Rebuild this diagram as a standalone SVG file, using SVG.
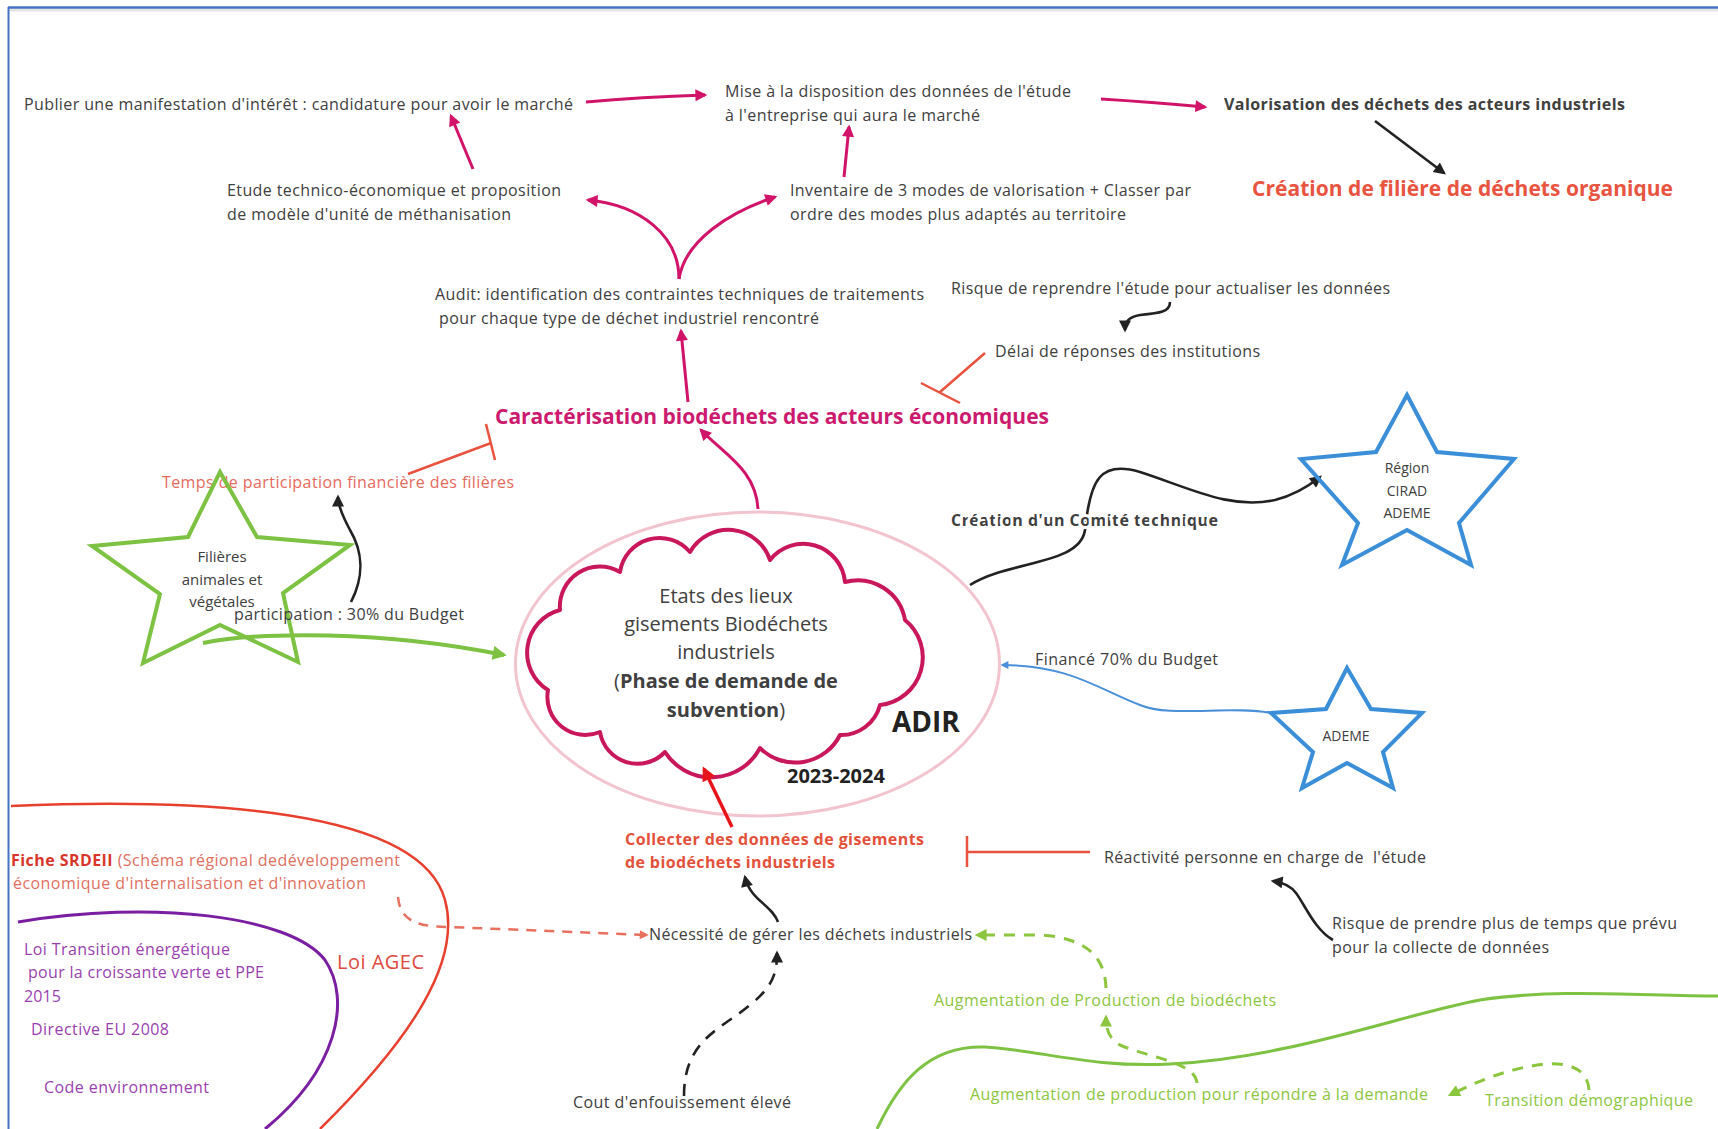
<svg xmlns="http://www.w3.org/2000/svg" width="1718" height="1129" viewBox="0 0 1718 1129">
<style>
text{font-family:"Open Sans","Noto Sans","Liberation Sans",sans-serif;font-size:16px;fill:#404040}
.b{font-weight:bold}
.c{text-anchor:middle}
.halo{paint-order:stroke;stroke:#fff;stroke-width:6px;stroke-linejoin:round}
.mag{fill:none;stroke:#d1146a;stroke-width:3;marker-end:url(#mMag)}
.blk{fill:none;stroke:#222;stroke-width:2.6;marker-end:url(#mBlk)}
.inh{fill:none;stroke:#e8523f;stroke-width:2.5}
.gd{fill:none;stroke:#8cc63f;stroke-width:3;stroke-dasharray:11 9;marker-end:url(#mGrn)}
.purple{fill:#9a3fb0}
.green{fill:#8cc63f}
</style>
<defs>
<marker id="mMag" viewBox="0 0 10 10" refX="8" refY="5" markerWidth="14" markerHeight="12" markerUnits="userSpaceOnUse" orient="auto"><path d="M0,0 L10,5 L0,10 z" fill="#d1146a"/></marker>
<marker id="mBlk" viewBox="0 0 10 10" refX="8" refY="5" markerWidth="13" markerHeight="12" markerUnits="userSpaceOnUse" orient="auto"><path d="M0,0 L10,5 L0,10 z" fill="#222"/></marker>
<marker id="mRed" viewBox="0 0 10 10" refX="8" refY="5" markerWidth="18" markerHeight="14" markerUnits="userSpaceOnUse" orient="auto"><path d="M0,0 L10,5 L0,10 z" fill="#e8141c"/></marker>
<marker id="mSal" viewBox="0 0 10 10" refX="8" refY="5" markerWidth="10" markerHeight="9" markerUnits="userSpaceOnUse" orient="auto"><path d="M0,0 L10,5 L0,10 z" fill="#e8705f"/></marker>
<marker id="mGrn" viewBox="0 0 10 10" refX="8" refY="5" markerWidth="13" markerHeight="12" markerUnits="userSpaceOnUse" orient="auto"><path d="M0,0 L10,5 L0,10 z" fill="#8cc63f"/></marker>
<marker id="mGrnS" viewBox="0 0 10 10" refX="8" refY="5" markerWidth="16" markerHeight="14" markerUnits="userSpaceOnUse" orient="auto"><path d="M0,0 L10,5 L0,10 z" fill="#7dc242"/></marker>
<marker id="mBlu" viewBox="0 0 10 10" refX="8" refY="5" markerWidth="9" markerHeight="8" markerUnits="userSpaceOnUse" orient="auto"><path d="M0,0 L10,5 L0,10 z" fill="#4a90d9"/></marker>
</defs>
<rect width="1718" height="1129" fill="#fff"/>
<g id="frame">
<line x1="8" y1="10" x2="1718" y2="10" stroke="#e4e4e4" stroke-width="3"/>
<line x1="8" y1="7.5" x2="1718" y2="7.5" stroke="#4472c4" stroke-width="2.5"/>
<line x1="8.5" y1="7" x2="8.5" y2="1129" stroke="#4472c4" stroke-width="2"/>
</g>
<g id="background-curves" fill="none">
<path d="M 11 806 C 200 798 420 808 445 900 C 462 962 410 1040 320 1129" stroke="#e8402f" stroke-width="2.5"/>
<path d="M 18 922 C 150 900 290 915 325 960 C 352 1000 337 1070 265 1129" stroke="#7b1fa2" stroke-width="3"/>
<path d="M 877 1129 C 900 1080 930 1045 985 1047 C 1040 1050 1090 1068 1170 1064 C 1290 1058 1400 1015 1480 1000 C 1560 988 1640 996 1718 996" stroke="#7dc242" stroke-width="3"/>
</g>
<g id="connectors">
<path class="mag" d="M 586 102 Q 640 97 705 95"/>
<path class="mag" d="M 1101 99 Q 1150 102 1205 107"/>
<path class="mag" d="M 473 169 L 451 116"/>
<path class="mag" d="M 844 177 L 849 127"/>
<path class="mag" d="M 679 279 C 679 235 640 205 588 200"/>
<path class="mag" d="M 679 279 C 685 240 730 212 775 197"/>
<path class="mag" d="M 688 402 L 681 331"/>
<path class="mag" d="M 758 509 C 756 470 725 455 701 430"/>
<path class="blk" d="M 1375 121 L 1444 173"/>
<path class="blk" d="M 1170 302 C 1170 312 1160 313 1140 315 C 1128 317 1125 322 1125 330"/>
<path class="blk" d="M 970 585 C 1010 560 1080 565 1085 530 C 1090 480 1100 460 1140 472 C 1190 488 1230 510 1275 500 C 1295 495 1310 485 1320 477"/>
<path class="blk" d="M 351 602 C 365 575 362 550 350 530 C 342 515 338 505 338 497"/>
<path class="blk" d="M 778 922 C 772 905 750 900 745 877"/>
<path class="blk" d="M 684 1096 C 684 1040 720 1030 750 1005 C 775 985 777 970 777 953" stroke-width="3.5" stroke-dasharray="12 9"/>
<path class="blk" d="M 1333 940 C 1315 930 1305 905 1296 893 C 1290 885 1280 882 1273 881"/>
<path class="inh" d="M 985 353 L 940 392 M 921 383 L 960 403"/>
<path class="inh" d="M 408 474 L 491 443 M 486 424 L 495 460"/>
<path class="inh" d="M 1090 852 L 967 852 M 967 836 L 967 867" stroke-width="3"/>
<path d="M 398 897 C 400 918 412 927 450 927 L 647 935" fill="none" stroke="#e8705f" stroke-width="2.5" stroke-dasharray="10 8" marker-end="url(#mSal)"/>
<path class="gd" d="M 1106 988 C 1105 960 1090 938 1040 935 L 977 935"/>
<path class="gd" d="M 1197 1083 C 1195 1062 1150 1058 1120 1045 C 1108 1038 1106 1028 1106 1017"/>
<path class="gd" d="M 1589 1090 C 1588 1070 1570 1062 1545 1064 C 1510 1068 1480 1080 1450 1095"/>
<path d="M 203 643 C 260 632 380 630 504 655" fill="none" stroke="#7dc242" stroke-width="4" marker-end="url(#mGrnS)"/>
<path d="M 1271 713 C 1230 705 1170 718 1140 705 C 1100 690 1070 665 1002 665" fill="none" stroke="#4a90d9" stroke-width="2" marker-end="url(#mBlu)"/>
</g>
<g id="n-publier"><text x="24" y="110" textLength="549">Publier une manifestation d'intérêt : candidature pour avoir le marché</text></g>
<g id="n-mise"><text x="725" y="97" textLength="346">Mise à la disposition des données de l'étude</text><text x="725" y="121" textLength="255">à l'entreprise qui aura le marché</text></g>
<g id="n-valorisation"><text class="b" x="1224" y="110" textLength="401">Valorisation des déchets des acteurs industriels</text></g>
<g id="n-creation-filiere"><text class="b" x="1252" y="196" textLength="421" style="font-size:21px;fill:#e8543f">Création de filière de déchets organique</text></g>
<g id="n-etude"><text x="227" y="196" textLength="334">Etude technico-économique et proposition</text><text x="227" y="220" textLength="284">de modèle d'unité de méthanisation</text></g>
<g id="n-inventaire"><text x="790" y="196" textLength="401">Inventaire de 3 modes de valorisation + Classer par</text><text x="790" y="220" textLength="336">ordre des modes plus adaptés au territoire</text></g>
<g id="n-audit"><text x="435" y="300" textLength="489">Audit: identification des contraintes techniques de traitements</text><text x="439" y="324" textLength="380">pour chaque type de déchet industriel rencontré</text></g>
<g id="n-risque-reprendre"><text x="951" y="294" textLength="439">Risque de reprendre l'étude pour actualiser les données</text></g>
<g id="n-delai"><text x="995" y="357" textLength="265">Délai de réponses des institutions</text></g>
<g id="n-caracterisation"><text class="b" x="495" y="424" textLength="554" style="font-size:21px;fill:#cc1a6e">Caractérisation biodéchets des acteurs économiques</text></g>
<g id="n-temps"><text x="162" y="488" textLength="352" style="fill:#e56a5c">Temps de participation financière des filières</text></g>
<g id="n-filieres">
<path d="M 220 472 L 257 537 L 350 545 L 283 593 L 298 662 L 220 625 L 143 663 L 160 594 L 92 546 L 188 537 Z" fill="none" stroke="#7dc242" stroke-width="4" stroke-linejoin="miter"/>
<text class="c" x="222" y="562" style="font-size:15px">Filières</text><text class="c" x="222" y="585" style="font-size:15px">animales et</text><text class="c" x="222" y="607" style="font-size:15px">végétales</text>
</g>
<g id="n-participation"><text x="234" y="620" textLength="230">participation : 30% du Budget</text></g>
<g id="n-adir">
<ellipse cx="757.5" cy="664" rx="242" ry="152" fill="none" stroke="#f2c4d0" stroke-width="3"/>
<path d="M 548 690 A 44 44 0 0 1 560 610 A 40 40 0 0 1 620 572 A 40 40 0 0 1 690 552 A 44 44 0 0 1 770 560 A 42 42 0 0 1 845 582 A 48 48 0 0 1 905 620 A 48 48 0 0 1 880 705 A 40 40 0 0 1 840 735 A 50 50 0 0 1 760 748 A 55 55 0 0 1 665 752 A 38 38 0 0 1 600 732 A 38 38 0 0 1 548 690 Z" fill="none" stroke="#c8175b" stroke-width="4" stroke-linejoin="round"/>
<text class="c" x="726" y="603" style="font-size:20px">Etats des lieux</text>
<text class="c" x="726" y="631" style="font-size:20px">gisements Biodéchets</text>
<text class="c" x="726" y="659" style="font-size:20px">industriels</text>
<text class="c" x="726" y="688" style="font-size:20px">(<tspan class="b">Phase de demande de</tspan></text>
<text class="c" x="726" y="717" style="font-size:20px"><tspan class="b">subvention</tspan>)</text>
<text class="b" x="892" y="732" style="font-size:28px;fill:#222">ADIR</text>
<text class="b" x="787" y="783" style="font-size:20px;fill:#222">2023-2024</text>
</g>
<g id="n-comite"><text class="b halo" x="951" y="526" textLength="267">Création d'un Comité technique</text></g>
<g id="n-region">
<path d="M 1407 395 L 1437 452 L 1514 459 L 1459 523 L 1471 565 L 1407 530 L 1342 565 L 1358 523 L 1301 459 L 1376 452 Z" fill="none" stroke="#3b8ed8" stroke-width="4"/>
<text class="c" x="1407" y="473" style="font-size:14px">Région</text><text class="c" x="1407" y="496" style="font-size:14px">CIRAD</text><text class="c" x="1407" y="518" style="font-size:14px">ADEME</text>
</g>
<g id="n-finance"><text x="1035" y="665" textLength="183">Financé 70% du Budget</text></g>
<g id="n-ademe">
<path d="M 1347 668 L 1371 709 L 1422 713 L 1383 752 L 1393 788 L 1347 763 L 1302 788 L 1313 752 L 1271 713 L 1326 709 Z" fill="none" stroke="#3b8ed8" stroke-width="4"/>
<text class="c" x="1346" y="741" style="font-size:14px">ADEME</text>
</g>
<g id="n-collecter"><text class="b" x="625" y="845" textLength="299" style="fill:#e4513a">Collecter des données de gisements</text><text class="b" x="625" y="868" textLength="210" style="fill:#e4513a">de biodéchets industriels</text></g>
<g id="n-reactivite"><text x="1104" y="863" textLength="322">Réactivité personne en charge de&#160; l'étude</text></g>
<g id="n-risque-prendre"><text x="1332" y="929" textLength="345">Risque de prendre plus de temps que prévu</text><text x="1332" y="953" textLength="217">pour la collecte de données</text></g>
<g id="n-srdeii"><text x="11" y="866" textLength="389" style="fill:#e0705f"><tspan class="b" style="fill:#d9362b">Fiche SRDEII</tspan> (Schéma régional dedéveloppement</text><text x="13" y="889" textLength="353" style="fill:#e0705f">économique d'internalisation et d'innovation</text></g>
<g id="n-loi-transition"><text class="purple" x="24" y="955" textLength="206">Loi Transition énergétique</text><text class="purple" x="28" y="978" textLength="236">pour la croissante verte et PPE</text><text class="purple" x="24" y="1002" textLength="37">2015</text></g>
<g id="n-directive"><text class="purple" x="31" y="1035" textLength="138">Directive EU 2008</text></g>
<g id="n-code"><text class="purple" x="44" y="1093" textLength="165">Code environnement</text></g>
<g id="n-agec"><text x="337" y="969" textLength="87" style="font-size:20px;fill:#e04a3f">Loi AGEC</text></g>
<g id="n-necessite"><text x="649" y="940" textLength="323">Nécessité de gérer les déchets industriels</text></g>
<g id="n-cout"><text x="573" y="1108" textLength="218">Cout d'enfouissement élevé</text></g>
<g id="n-augm-bio"><text class="green" x="934" y="1006" textLength="342">Augmentation de Production de biodéchets</text></g>
<g id="n-augm-prod"><text class="green" x="970" y="1100" textLength="458">Augmentation de production pour répondre à la demande</text></g>
<g id="n-transition-demo"><text class="green" x="1485" y="1106" textLength="208">Transition démographique</text></g>
<g id="red-arrow"><path d="M 732 827 L 704 769" fill="none" stroke="#e8141c" stroke-width="3.5" marker-end="url(#mRed)"/></g>
</svg>
